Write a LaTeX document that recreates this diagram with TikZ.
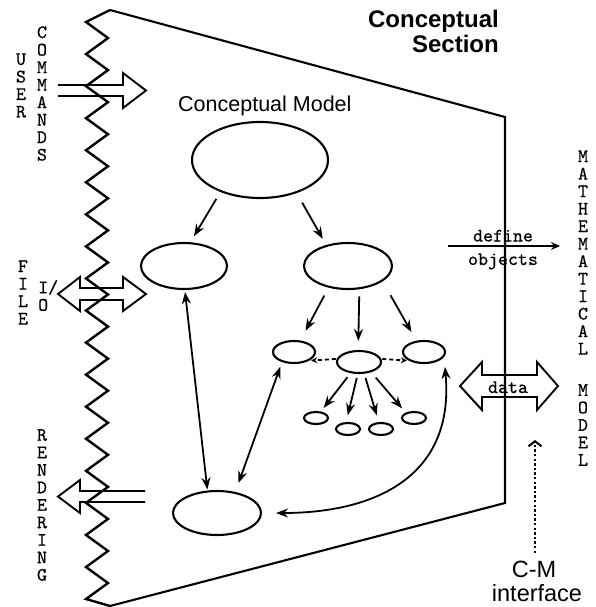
\documentclass[tikz,border=0pt]{standalone}
\usepackage{fontspec}
\newfontfamily\hel{Liberation Sans}
\newfontfamily\cour{lmmono10-regular.otf}[FakeBold=0.6]
\usetikzlibrary{shapes.geometric,arrows.meta}

\tikzset{
  ell/.style 2 args={ellipse, draw, line width=2.1pt, inner sep=0pt,
    minimum width=#1, minimum height=#2},
  tip/.tip={Stealth[length=12pt,width=9pt,inset=4pt]},
  smalltip/.tip={Stealth[length=6pt,width=6pt,inset=2pt]},
  arr/.style={-tip, line width=1.8pt},
  darr/.style={tip-tip, line width=1.8pt},
  hollow/.style={line width=1.9pt, line join=miter},
  edge/.style={line width=2.1pt, line join=miter},
  vlab/.style={font=\cour\fontsize{19}{17.5}\selectfont, align=center, inner sep=0pt},
  mono/.style={font=\cour\fontsize{19}{18}\selectfont, inner sep=0pt},
  bigsans/.style={font=\hel\fontsize{23.5}{24}\selectfont, inner sep=0pt},
  titlesans/.style={font=\hel\bfseries\fontsize{24}{25}\selectfont, inner sep=0pt},
}

\begin{document}
\begin{tikzpicture}[x=1pt,y=-1pt]
\useasboundingbox (0,0) rectangle (595,607);

% ---- section outline: zigzag boundary on the left, straight edges elsewhere
\draw[edge, line width=2.4pt] (110,10)
  \foreach \k in {0,...,17} { -- (86,{22+32.06*\k}) -- (108,{38.03+32.06*\k}) }
  -- (86,599) -- (110,606);
\draw[edge] (110,10) -- (505,117) -- (505,503) -- (110,606);

% ---- titles
\node[titlesans, anchor=base east] (sec1) at (499,28) {Conceptual};
\node[titlesans, anchor=base east] (sec2) at (499,53) {Section};
\node[font=\hel\fontsize{21.5}{22}\selectfont, inner sep=0pt, anchor=base west] (cmodel) at (178,111) {Conceptual Model};

% ---- model tree
\node[ell={136pt}{76pt}] (root) at (260,160) {};
\node[ell={86pt}{46pt}]  (midL) at (184,266) {};
\node[ell={88pt}{46pt}]  (midR) at (348,266) {};
\node[ell={42pt}{22pt}]  (sL)   at (294,352) {};
\node[ell={44pt}{22pt}]  (sM)   at (359,362) {};
\node[ell={42pt}{22pt}]  (sR)   at (424,352) {};
\node[ell={24pt}{12pt}]  (t1)   at (316,418) {};
\node[ell={24pt}{12pt}]  (t2)   at (348,429) {};
\node[ell={24pt}{12pt}]  (t3)   at (381,429) {};
\node[ell={24pt}{12pt}]  (t4)   at (414,418) {};
\node[ell={88pt}{44pt}]  (bot)  at (217,513) {};

\draw[arr, shorten <=8pt, shorten >=7pt]  (root.219) -- (midL.75);
\draw[arr, shorten <=11pt, shorten >=7pt] (root.318) -- (midR.136);
\draw[arr, shorten <=9pt, shorten >=11pt] (midR.228) -- (sL.61);
\draw[arr, shorten <=7pt, shorten >=9pt]  (midR.296) -- (sM.94);
\draw[arr, shorten <=16pt, shorten >=10pt] (midR.336) -- (sR.124);

\draw[arr, shorten <=5pt, shorten >=4.5pt] (sM.233) -- (t1.53);
\draw[arr, shorten <=4pt, shorten >=7pt]   (sM.264) -- (t2.105);
\draw[arr, shorten <=4.4pt, shorten >=7pt] (sM.294) -- (t3.108);
\draw[arr, shorten <=7pt, shorten >=5.5pt] (sM.320) -- (t4.147);

\draw[-smalltip, line width=1.8pt, dash pattern=on 4pt off 3pt, shorten <=1pt, shorten >=2pt] (sM.172) -- (sL.-30);
\draw[-smalltip, line width=1.8pt, dash pattern=on 4pt off 3pt, shorten <=1pt, shorten >=2pt] (sM.8) -- (sR.210);

\draw[darr, shorten <=1pt, shorten >=2pt] (bot.113) -- (midL.272);
\draw[darr, shorten <=9.5pt, shorten >=5pt] (bot.49) -- (sL.220);
\draw[darr, shorten <=10pt, shorten >=14pt]
  (sR.346) .. controls (455,480) and (370,513) .. (bot.east);

% ---- user side
\node[vlab] (user) at (21,85.5) {U\\S\\E\\R};
\node[vlab] (commands) at (42,93.5) {C\\O\\M\\M\\A\\N\\D\\S};
\node[vlab] (file) at (23,292.5) {F\\I\\L\\E};
\node[vlab, align=left, anchor=west] (io) at (38,295.5) {I/\\O};
\node[vlab] (rendering) at (42,505) {R\\E\\N\\D\\E\\R\\I\\N\\G};

\draw[hollow] (58,85) -- (123,85) -- (123,73) -- (146,90.5) -- (123,108) -- (123,96) -- (58,96);
\draw[hollow] (58,294) -- (80,277) -- (80,288) -- (123,288) -- (123,277) -- (146,294)
  -- (123,311) -- (123,300) -- (80,300) -- (80,311) -- cycle;
\draw[hollow] (145,491) -- (80,491) -- (80,480) -- (58,496.5) -- (80,513) -- (80,502) -- (145,502);

% ---- mathematical side
\node[vlab] (math) at (583,252.5) {M\\A\\T\\H\\E\\M\\A\\T\\I\\C\\A\\L};
\node[vlab] (model) at (583,425) {M\\O\\D\\E\\L};

\coordinate (defS) at (448,246);
\coordinate (defE) at (560,246);
\draw[arr, -{Stealth[length=9pt,width=8pt,inset=3pt]}] (defS) -- (defE);
\node[mono, anchor=base] (define) at (503,241.5) {define};
\node[mono, anchor=base] (objects) at (503,265) {objects};

\draw[hollow] (460,386) -- (482,362) -- (482,375) -- (537,375) -- (537,362) -- (558,386)
  -- (537,410) -- (537,397) -- (482,397) -- (482,410) -- cycle;
\node[mono, anchor=base] (data) at (508,393) {data};

% ---- interface label
\node[bigsans, anchor=base] (cm) at (534,577) {C-M};
\node[bigsans, anchor=base] (iface) at (537,601.5) {interface};
\coordinate (cmtip) at (535,440);
\draw[line width=2.4pt, dash pattern=on 2.4pt off 2.2pt,
  -{Straight Barb[length=5pt,width=13pt,line width=2pt]}] (535,553) -- (cmtip);

\end{tikzpicture}
\end{document}
